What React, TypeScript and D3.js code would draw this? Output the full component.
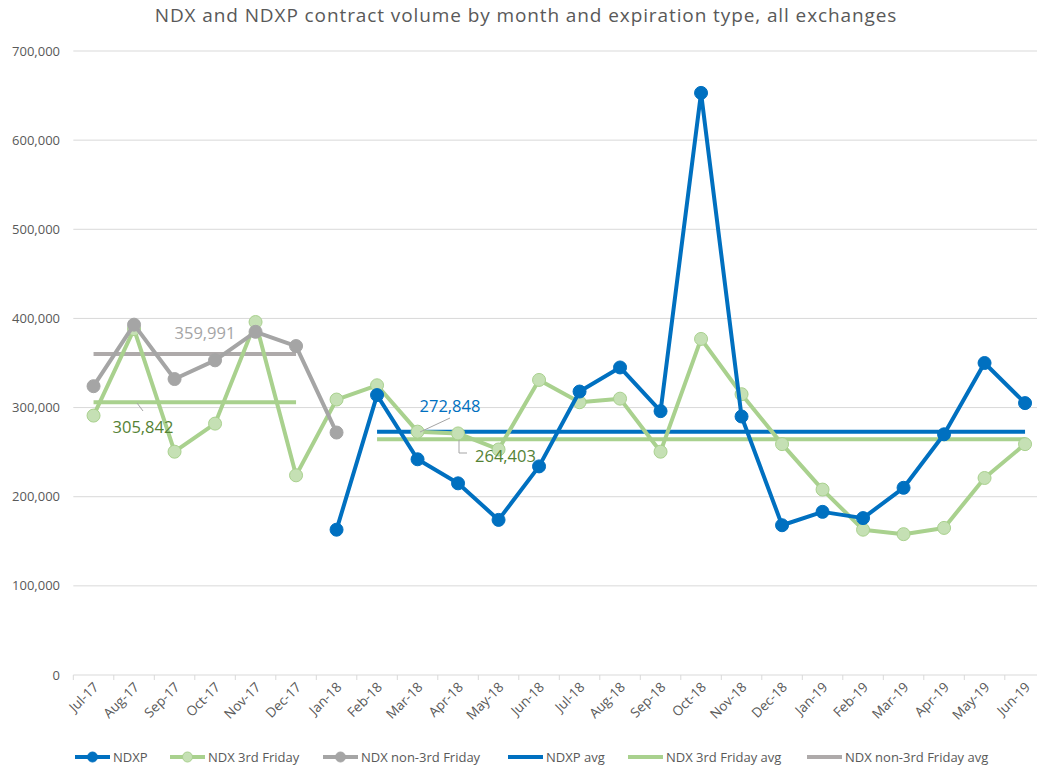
import * as d3 from "d3";

const months = [
  "Jul-17", "Aug-17", "Sep-17", "Oct-17", "Nov-17", "Dec-17",
  "Jan-18", "Feb-18", "Mar-18", "Apr-18", "May-18", "Jun-18",
  "Jul-18", "Aug-18", "Sep-18", "Oct-18", "Nov-18", "Dec-18",
  "Jan-19", "Feb-19", "Mar-19", "Apr-19", "May-19", "Jun-19",
];

const ndxp = [
  null, null, null, null, null, null,
  163000, 314000, 242000, 215000, 174000, 234000,
  318000, 345000, 296000, 653000, 290000, 168000,
  183000, 176000, 210000, 270000, 350000, 305000,
];

const ndx3rd = [
  291000, 388000, 250500, 282000, 396000, 224000,
  309000, 325000, 273000, 271000, 253000, 331000,
  306000, 310000, 250500, 377000, 315000, 259000,
  208000, 163000, 158000, 165000, 221000, 259000,
];

const ndxNon3rd = [
  324000, 393000, 332000, 353000, 385000, 369000,
  272000, null, null, null, null, null,
  null, null, null, null, null, null,
  null, null, null, null, null, null,
];

const ndxpAvg = 272848;
const ndx3rdAvgEarly = 305842;
const ndx3rdAvgLate = 264403;
const ndxNon3rdAvg = 359991;

// which months each average line spans
const earlyRange = ["Jul-17", "Dec-17"];
const lateRange = ["Feb-18", "Jun-19"];

const yTicks = [0, 100000, 200000, 300000, 400000, 500000, 600000, 700000];

const BLUE = "#0070C0";
const GREEN = "#A9D18E";
const GREEN_FILL = "#C5E0B4";
const GREEN_TEXT = "#548235";
const GRAY = "#A5A5A5";
const GRAY_AVG = "#AEAAAA";
const TEXT = "#595959";
const GRID = "#D9D9D9";
const FONT = "'Open Sans', 'Noto Sans', sans-serif";

const W = 1037;
const H = 768;

export default function App() {
  const x = d3.scaleBand<string>().domain(months).range([73.3, 1045.3]);
  const cx = (m: string) => (x(m) as number) + x.bandwidth() / 2;
  const y = d3.scaleLinear().domain([0, 700000]).range([675, 51]);
  const fmt = d3.format(",");

  const line = d3
    .line<number | null>()
    .defined((d) => d != null)
    .x((_, i) => cx(months[i]))
    .y((d) => y(d as number));

  const series = [
    { data: ndx3rd, stroke: GREEN, fill: GREEN_FILL },
    { data: ndxNon3rd, stroke: GRAY, fill: GRAY },
    { data: ndxp, stroke: BLUE, fill: BLUE },
  ];

  const avgLines = [
    { v: ndxNon3rdAvg, r: earlyRange, c: GRAY_AVG },
    { v: ndx3rdAvgEarly, r: earlyRange, c: GREEN },
    { v: ndxpAvg, r: lateRange, c: BLUE },
    { v: ndx3rdAvgLate, r: lateRange, c: GREEN },
  ];

  const legend = [
    { label: "NDXP", c: BLUE, fill: BLUE, marker: true, x: 75 },
    { label: "NDX 3rd Friday", c: GREEN, fill: GREEN_FILL, marker: true, x: 170 },
    { label: "NDX non-3rd Friday", c: GRAY, fill: GRAY, marker: true, x: 323 },
    { label: "NDXP avg", c: BLUE, fill: BLUE, marker: false, x: 508 },
    { label: "NDX 3rd Friday avg", c: GREEN, fill: GREEN, marker: false, x: 628 },
    { label: "NDX non-3rd Friday avg", c: GRAY_AVG, fill: GRAY_AVG, marker: false, x: 807 },
  ];

  return (
    <svg
      width={W}
      height={H}
      style={{ position: "absolute", left: 0, top: 0, background: "#fff", overflow: "hidden" }}
      fontFamily={FONT}
    >
      <text x={526} y={22} textAnchor="middle" fontSize={19} letterSpacing={0.9} fill={TEXT}>
        NDX and NDXP contract volume by month and expiration type, all exchanges
      </text>

      {yTicks.map((t) => (
        <g key={t}>
          {t > 0 && <line x1={73.3} x2={W} y1={y(t)} y2={y(t)} stroke={GRID} strokeWidth={1} />}
          <text x={60} y={y(t) + 4.5} textAnchor="end" fontSize={13} fill={TEXT}>
            {fmt(t)}
          </text>
        </g>
      ))}

      <line x1={73.3} x2={W} y1={y(0)} y2={y(0)} stroke={GRID} strokeWidth={1} />
      {months.map((m) => (
        <g key={m}>
          <line x1={x(m)} x2={x(m)} y1={y(0)} y2={y(0) + 5} stroke={GRID} />
          <text
            transform={`translate(${cx(m) + 6},${y(0) + 13}) rotate(-45)`}
            textAnchor="end"
            fontSize={13.5}
            fill={TEXT}
          >
            {m}
          </text>
        </g>
      ))}

      {avgLines.map((a, i) => (
        <line
          key={i}
          x1={cx(a.r[0])}
          x2={cx(a.r[1])}
          y1={y(a.v)}
          y2={y(a.v)}
          stroke={a.c}
          strokeWidth={4}
        />
      ))}

      {series.map((s, i) => (
        <g key={i}>
          <path d={line(s.data) || ""} fill="none" stroke={s.stroke} strokeWidth={4} strokeLinejoin="round" />
          {s.data.map((d, j) =>
            d == null ? null : (
              <circle key={j} cx={cx(months[j])} cy={y(d)} r={6.5} fill={s.fill} stroke={s.stroke} strokeWidth={1} />
            )
          )}
        </g>
      ))}

      {/* data labels for the averages */}
      <text x={205} y={339} textAnchor="middle" fontSize={16.5} fill={GRAY}>
        {fmt(ndxNon3rdAvg)}
      </text>
      <line x1={137} y1={403} x2={143} y2={411} stroke={GRAY} strokeWidth={1} />
      <text x={143} y={433} textAnchor="middle" fontSize={16.5} fill={GREEN_TEXT}>
        {fmt(ndx3rdAvgEarly)}
      </text>
      <line x1={450} y1={418} x2={420} y2={432} stroke={GRAY} strokeWidth={1} />
      <text x={450} y={411.5} textAnchor="middle" fontSize={16.5} fill={BLUE}>
        {fmt(ndxpAvg)}
      </text>
      <polyline points="459,440 459,453 467,453" fill="none" stroke={GRAY} strokeWidth={1} />
      <text x={505.5} y={461.5} textAnchor="middle" fontSize={16.5} fill={GREEN_TEXT}>
        {fmt(ndx3rdAvgLate)}
      </text>

      {legend.map((l) => (
        <g key={l.label} transform={`translate(${l.x},757)`}>
          <line x1={0} x2={35} y1={0} y2={0} stroke={l.c} strokeWidth={4} />
          {l.marker && <circle cx={17.5} cy={0} r={5} fill={l.fill} stroke={l.c} strokeWidth={1} />}
          <text x={38} y={4.5} fontSize={13} fill={TEXT}>
            {l.label}
          </text>
        </g>
      ))}
    </svg>
  );
}
